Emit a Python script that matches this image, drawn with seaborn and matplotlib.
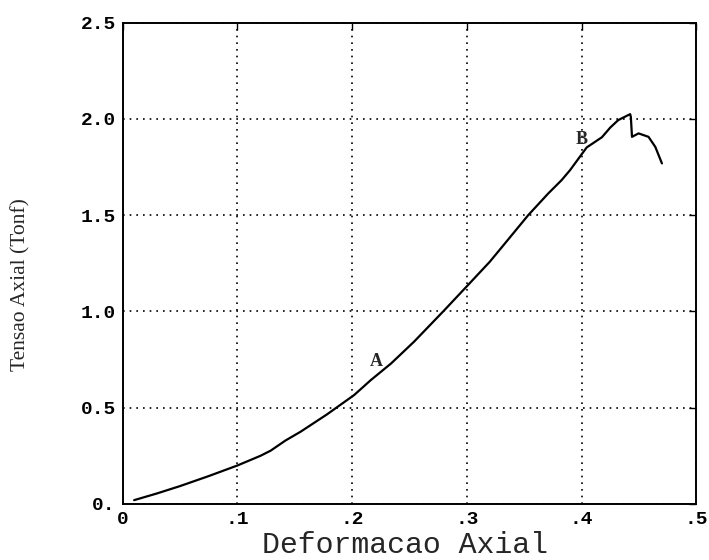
import matplotlib
matplotlib.use("Agg")
import matplotlib.pyplot as plt
import seaborn as sns
import pandas as pd

deformacao = [0.010, 0.030, 0.050, 0.075, 0.100, 0.120, 0.129, 0.142, 0.155, 0.178, 0.2018,
              0.2164, 0.234, 0.254, 0.2805, 0.301, 0.320, 0.330, 0.3535, 0.371, 0.3826,
              0.390, 0.4045, 0.4178, 0.4250, 0.4320, 0.4424, 0.4430, 0.4440, 0.4497,
              0.4584, 0.4643, 0.4701]
tensao = [0.020, 0.055, 0.093, 0.145, 0.200, 0.250, 0.277, 0.330, 0.375, 0.465, 0.566,
          0.644, 0.730, 0.843, 1.007, 1.137, 1.258, 1.330, 1.500, 1.613, 1.682,
          1.734, 1.852, 1.905, 1.955, 1.994, 2.025, 2.010, 1.907, 1.925,
          1.907, 1.855, 1.769]

x_ticks = [0, 0.1, 0.2, 0.3, 0.4, 0.5]
x_labels = ["0", ".1", ".2", ".3", ".4", ".5"]
y_ticks = [0, 0.5, 1.0, 1.5, 2.0, 2.5]
y_labels = ["0.", "0.5", "1.0", "1.5", "2.0", "2.5"]

labels_txt = ["A", "B"]
labels_x = [0.221, 0.400]
labels_y = [0.739, 1.893]

sns.set_style("white")
plt.rcParams['font.family'] = ['Liberation Mono', 'DejaVu Sans']

fig = plt.figure(figsize=(7.09, 5.60), dpi=100)
ax = fig.add_axes([0.173, 0.100, 0.809, 0.8595])

df = pd.DataFrame({"x": deformacao, "y": tensao})
sns.lineplot(data=df, x="x", y="y", ax=ax, color="black", linewidth=1.6,
             sort=False, estimator=None)

for t, lx, ly in zip(labels_txt, labels_x, labels_y):
    ax.text(lx, ly, t, fontsize=13, fontweight="bold", family="Liberation Serif",
            ha="center", va="center")

ax.set_xlim(0, 0.5)
ax.set_ylim(0, 2.5)
ax.set_xticks(x_ticks)
ax.set_xticklabels(x_labels, fontsize=14, fontweight="bold")
ax.set_yticks(y_ticks)
ax.set_yticklabels(y_labels, fontsize=14, fontweight="bold")
ax.grid(True, color="black", linestyle=(0, (1, 3)), linewidth=1.2)
ax.tick_params(direction="in", length=5, width=1, color="black", top=True, right=True,
               labelcolor="black", pad=5)
for s in ax.spines.values():
    s.set_color("black")
    s.set_linewidth(1.4)
    s.set_visible(True)

ax.set_xlabel("Deformacao Axial", fontsize=21.5)
ax.xaxis.set_label_coords(0.493, -0.056)
ax.set_ylabel("Tensao Axial (Tonf)", fontsize=15.5, family="Liberation Serif",
              va="center")
ax.yaxis.set_label_coords(-0.177, 0.455)

fig.savefig("out.png", dpi=100)
